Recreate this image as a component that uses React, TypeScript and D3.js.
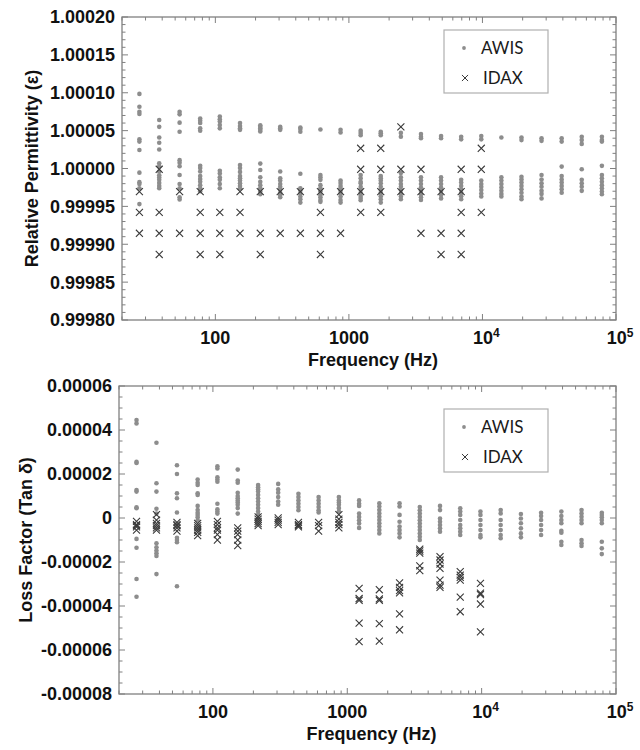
import React from "react";
import * as d3 from "d3";

// Measurement frequencies (Hz)
const freqs = [27, 38, 54, 77, 108, 153, 217, 306, 433, 612, 866, 1225, 1732, 2450, 3465, 4900, 6930, 9800, 13860, 19600, 27700, 39200, 55400, 78400];

// ---- Relative permittivity (top panel) ----
const awisPerm: number[][] = [
  [1.0000985, 1.0000815, 1.000075, 1.000072, 1.0000385, 1.0000355, 1.0000245, 0.9999945, 0.999982, 0.9999795, 0.999974, 0.999953],
  [1.000064, 1.000055, 1.000041, 1.000034, 1.000025, 1.000007, 1.000003, 0.999996, 0.999991, 0.999988, 0.999985, 0.999981, 0.999977, 0.999974],
  [1.000075, 1.0000715, 1.0000605, 1.0000485, 1.000011, 1.0000075, 1.000003, 0.9999915, 0.9999795, 0.999974, 0.999962, 0.999959],
  [1.000066, 1.000063, 1.00006, 1.000053, 1.00005, 1.0000035, 1.0000005, 0.999996, 0.99999, 0.999986, 0.9999825, 0.999978, 0.999974, 0.99997],
  [1.0000685, 1.000065, 1.000062, 1.0000575, 1.000053, 0.999997, 0.9999935, 0.9999885, 0.999985, 0.9999795, 0.999974],
  [1.00006, 1.000056, 1.000053, 1.000051, 1.0000045, 1.0000005, 0.9999955, 0.99999, 0.999987, 0.999984, 0.9999805, 0.999977, 0.999974],
  [1.000057, 1.000055, 1.000053, 1.000051, 1.000049, 1.0000065, 0.999998, 0.9999885, 0.9999825, 0.999978, 0.999974, 0.9999695, 0.999966],
  [1.000055, 1.000053, 1.000051, 0.999996, 0.999987, 0.999984, 0.9999795, 0.999976, 0.9999725, 0.999968, 0.999965, 0.999962],
  [1.000054, 1.000052, 1.0000485, 0.999993, 0.999974, 0.999971, 0.999967, 0.999963, 0.9999595, 0.999955],
  [1.0000515, 0.9999915, 0.9999885, 0.999985, 0.999978, 0.999974, 0.99997, 0.999965, 0.999962, 0.9999585, 0.999956],
  [1.000051, 1.0000475, 0.999984, 0.999981, 0.999977, 0.999974, 0.9999705, 0.999967, 0.999963, 0.9999585, 0.999955],
  [1.00005, 1.000047, 1.000044, 0.9999915, 0.999987, 0.9999825, 0.9999805, 0.999976, 0.9999725, 0.999968, 0.999964, 0.999961, 0.999958],
  [1.0000485, 1.0000465, 1.000044, 0.99999, 0.999987, 0.999984, 0.9999805, 0.999976, 0.999972, 0.999968, 0.9999635, 0.9999595, 0.999955],
  [1.000047, 1.000042, 0.999994, 0.9999885, 0.999984, 0.9999795, 0.999976, 0.9999715, 0.999967, 0.999963, 0.9999595],
  [1.0000455, 1.000042, 1.00004, 0.9999885, 0.999984, 0.9999795, 0.999975, 0.9999705, 0.999966, 0.999962, 0.9999585],
  [1.000043, 1.00004, 0.9999885, 0.999984, 0.9999795, 0.999975, 0.9999705, 0.999965, 0.9999605],
  [1.000042, 1.0000385, 0.999985, 0.9999815, 0.999977, 0.9999725, 0.999968, 0.9999635, 0.9999595],
  [1.000043, 1.0000385, 0.999984, 0.9999795, 0.999976, 0.9999715, 0.999967, 0.999963],
  [1.000041, 0.9999885, 0.999984, 0.9999795, 0.999975, 0.9999705, 0.9999665, 0.999963],
  [1.000041, 1.0000375, 0.999989, 0.9999855, 0.9999815, 0.999977, 0.9999725, 0.999968, 0.999963, 0.9999595],
  [1.00004, 1.0000365, 0.9999915, 0.9999855, 0.9999805, 0.999976, 0.9999705, 0.9999665, 0.9999605],
  [1.00004, 1.0000355, 1.0000025, 0.99999, 0.9999855, 0.9999815, 0.999977, 0.9999725, 0.999968],
  [1.000042, 1.0000375, 1.0000325, 0.999999, 0.999985, 0.9999805, 0.999976, 0.9999705],
  [1.000042, 1.0000375, 1.0000355, 1.0000035, 0.9999915, 0.999987, 0.9999825, 0.999978, 0.999974, 0.9999695, 0.999966],
];

const idaxPerm: number[][] = [
  [0.9999695, 0.999942, 0.9999145],
  [0.999999, 0.999942, 0.9999145, 0.9998865],
  [0.9999695, 0.9999145],
  [0.9999695, 0.999942, 0.9999145, 0.9998865],
  [0.999942, 0.9999145, 0.9998865],
  [0.9999695, 0.999942, 0.9999145],
  [0.9999695, 0.9999145, 0.9998865],
  [0.9999695, 0.9999145],
  [0.9999695, 0.9999145],
  [0.9999695, 0.999942, 0.9999145, 0.9998865],
  [0.9999695, 0.9999145],
  [1.0000267, 0.999999, 0.9999695, 0.999942],
  [1.0000267, 0.999999, 0.9999695, 0.999942],
  [1.000055, 0.999999, 0.9999695],
  [0.999999, 0.9999695, 0.9999145],
  [0.9999695, 0.9999145, 0.9998865],
  [0.999999, 0.9999695, 0.999942, 0.9999145, 0.9998865],
  [1.0000267, 0.999999, 0.999942],
];

// ---- Loss factor (bottom panel) ----
const awisLoss: number[][] = [
  [44.5e-6, 43e-6, 25.5e-6, 25e-6, 12.7e-6, 12e-6, 4.9e-6, 4.4e-6, -9.5e-6, -13.5e-6, -27.7e-6, -35.8e-6],
  [34.2e-6, 15.8e-6, 12e-6, 4.2e-6, 2e-6, -11.5e-6, -13.3e-6, -14.8e-6, -16e-6, -17.3e-6, -25.5e-6],
  [24e-6, 20e-6, 11.2e-6, 9e-6, 2.5e-6, -9e-6, -10e-6, -11e-6, -31e-6],
  [17.5e-6, 16e-6, 15e-6, 11.2e-6, 10.5e-6, 5.5e-6, 3.6e-6, 2.4e-6, 1.4e-6, 0.3e-6, -1e-6],
  [23.5e-6, 22.5e-6, 18.5e-6, 17.5e-6, 16.5e-6, 6.5e-6, 4e-6, 3e-6, 2e-6],
  [22e-6, 17e-6, 16e-6, 11.5e-6, 10e-6, 9e-6, 8e-6, 7e-6, 6e-6, 4.5e-6, 2e-6],
  [15e-6, 14e-6, 13e-6, 12e-6, 10.5e-6, 9e-6, 7.5e-6, 6e-6, 4.5e-6, 3e-6, 1.5e-6],
  [15.5e-6, 13e-6, 11.5e-6, 9.5e-6, 7.5e-6, 6e-6],
  [11e-6, 9.5e-6, 8e-6, 6.5e-6, 5e-6, 3.5e-6],
  [9.5e-6, 8e-6, 6.5e-6, 5e-6, 3.5e-6, 2.5e-6],
  [9.5e-6, 8e-6, 7e-6, 6e-6, 4.5e-6, 3e-6],
  [8e-6, 6.5e-6, 5.5e-6, 2e-6, 0.5e-6, -1e-6, -2.5e-6, -4.5e-6],
  [6.7e-6, 5.2e-6, 3.6e-6, 2.1e-6, 0.6e-6, -0.9e-6, -2.4e-6, -3.9e-6, -5.5e-6, -7e-6],
  [6.7e-6, 5.2e-6, 1.4e-6, -1.7e-6, -3.9e-6, -5.5e-6, -7e-6, -8.8e-6],
  [5e-6, 3.5e-6, 2e-6, 0.5e-6, -1e-6, -2.5e-6, -4e-6, -5.5e-6, -7e-6, -8.5e-6, -10e-6],
  [5.5e-6, 3.6e-6, -0.2e-6, -1.7e-6, -3.2e-6, -4.7e-6, -6.2e-6],
  [4.4e-6, 2.9e-6, 1.4e-6, -0.9e-6, -3.2e-6, -4.7e-6, -6.2e-6, -7.7e-6],
  [2.9e-6, 1.4e-6, -0.9e-6, -3.2e-6, -5.5e-6, -7.7e-6, -8.8e-6],
  [3.6e-6, 2.1e-6, -0.9e-6, -3.2e-6, -5.5e-6, -7.7e-6, -9.2e-6],
  [1.8e-6, -0.2e-6, -2.4e-6, -4.7e-6, -7e-6, -8.8e-6],
  [2.4e-6, 0.9e-6, -0.9e-6, -3.2e-6, -5.5e-6, -7.7e-6],
  [2.9e-6, 0.9e-6, -0.9e-6, -2.4e-6, -5.8e-6, -6.7e-6, -10.8e-6, -12.3e-6],
  [3.6e-6, 2.1e-6, 0.6e-6, -0.9e-6, -2.4e-6, -10e-6, -11.5e-6, -12.7e-6],
  [2.4e-6, 1.4e-6, 0.3e-6, -0.9e-6, -2.4e-6, -10.8e-6, -13.8e-6, -16.4e-6],
];

const idaxLoss: number[][] = [
  [-1.5e-6, -3e-6, -3.5e-6, -4e-6, -5.5e-6],
  [1.5e-6, -1e-6, -2.5e-6, -3.5e-6, -4.5e-6, -5.5e-6],
  [-2e-6, -3e-6, -3.5e-6, -4.5e-6, -6e-6],
  [-2.5e-6, -3.5e-6, -4.5e-6, -5.5e-6, -6.5e-6, -8e-6],
  [-1.5e-6, -3e-6, -4.5e-6, -5.5e-6, -7.5e-6, -10e-6],
  [-4.5e-6, -6e-6, -7.5e-6, -10e-6, -12.5e-6],
  [0.5e-6, -0.5e-6, -1.5e-6, -2.5e-6, -3.5e-6],
  [0, -1e-6, -2e-6, -3e-6],
  [-2e-6, -3e-6, -3.5e-6, -4e-6],
  [-2e-6, -3.5e-6, -6e-6],
  [1.5e-6, -0.5e-6, -2e-6, -3e-6, -4.5e-6],
  [-32e-6, -36.6e-6, -37.4e-6, -47.8e-6, -56.2e-6],
  [-32.6e-6, -36.8e-6, -37.4e-6, -48e-6, -56e-6],
  [-29.5e-6, -31.5e-6, -33e-6, -34e-6, -43.6e-6, -50.8e-6],
  [-14.2e-6, -15e-6, -16e-6, -21.8e-6, -23.9e-6],
  [-17.6e-6, -19.1e-6, -20.9e-6, -22.9e-6, -28.2e-6, -30.5e-6, -31.5e-6],
  [-24.4e-6, -26e-6, -27e-6, -28.2e-6, -36e-6, -42.6e-6],
  [-29.7e-6, -34.2e-6, -34.8e-6, -39.1e-6, -51.8e-6],
];

const xDomain = [20, 100000];
const xTickLabels = [
  { v: 100, base: "100", sup: "" },
  { v: 1000, base: "1000", sup: "" },
  { v: 10000, base: "10", sup: "4" },
  { v: 100000, base: "10", sup: "5" },
];
const permDomain = [0.9998, 1.0002];
const lossDomain = [-0.00008, 0.00006];
const seriesNames = ["AWIS", "IDAX"];

const AXIS_FONT = "'Liberation Sans', Arial, sans-serif";
const LEG_FONT = "Lato, 'Open Sans', sans-serif";
const FRAME = "#808080";
const DOT = "#8d8d8d";
const CROSS = "#3a3a3a";

type Box = { left: number; right: number; top: number; bottom: number };

function Panel(props: {
  box: Box;
  yDomain: number[];
  majorCount: number;
  minorCount: number;
  fmt: (v: number) => string;
  yTitle: string;
  yTitleX: number;
  awis: number[][];
  idax: number[][];
  legend: { x: number; y: number };
}) {
  const { box, yDomain, majorCount, minorCount, fmt, yTitle, yTitleX, awis, idax, legend } = props;
  const x = d3.scaleLog().domain(xDomain).range([box.left, box.right]);
  const y = d3.scaleLinear().domain(yDomain).range([box.bottom, box.top]);
  const xTicks = x.ticks();
  const isMajorX = (v: number) => Math.abs(Math.log10(v) - Math.round(Math.log10(v))) < 1e-9;
  const yMajor = y.ticks(majorCount);
  const yMinor = y.ticks(minorCount);
  const crossPath = d3.symbol(d3.symbolX, 34)() as string;
  const legCross = d3.symbol(d3.symbolX, 26)() as string;

  const tickLines: React.ReactNode[] = [];
  xTicks.forEach((t, i) => {
    const len = isMajorX(t) ? 6 : 3.5;
    const px = x(t);
    tickLines.push(<line key={"xb" + i} x1={px} x2={px} y1={box.bottom} y2={box.bottom - len} />);
    tickLines.push(<line key={"xt" + i} x1={px} x2={px} y1={box.top} y2={box.top + len} />);
  });
  yMinor.forEach((t, i) => {
    const major = yMajor.some((m) => Math.abs(m - t) < 1e-12);
    const len = major ? 6 : 3.5;
    const py = y(t);
    tickLines.push(<line key={"yl" + i} x1={box.left} x2={box.left + len} y1={py} y2={py} />);
    tickLines.push(<line key={"yr" + i} x1={box.right} x2={box.right - len} y1={py} y2={py} />);
  });

  const cy = (box.top + box.bottom) / 2;

  return (
    <g>
      <rect x={box.left} y={box.top} width={box.right - box.left} height={box.bottom - box.top} fill="none" stroke={FRAME} strokeWidth={1.3} />
      <g stroke={FRAME} strokeWidth={1}>{tickLines}</g>

      {/* y tick labels */}
      <g fontFamily={AXIS_FONT} fontWeight="bold" fontSize={18} fill="#111" textAnchor="end">
        {yMajor.map((t, i) => (
          <text key={i} x={box.left - 7} y={y(t)} dy="0.36em">{fmt(t)}</text>
        ))}
      </g>
      {/* x tick labels */}
      <g fontFamily={AXIS_FONT} fontWeight="bold" fontSize={18} fill="#111" textAnchor="middle">
        {xTickLabels.map((t, i) => (
          <text key={i} x={x(t.v) + (t.sup ? 4 : 0)} y={box.bottom + 24}>
            {t.base}
            {t.sup ? <tspan fontSize={12} dy={-7}>{t.sup}</tspan> : null}
          </text>
        ))}
      </g>
      <text x={(box.left + box.right) / 2 + 4} y={box.bottom + 46} textAnchor="middle" fontFamily={AXIS_FONT} fontWeight="bold" fontSize={18} fill="#111">
        Frequency (Hz)
      </text>
      <text transform={`translate(${yTitleX},${cy}) rotate(-90)`} textAnchor="middle" fontFamily={AXIS_FONT} fontWeight="bold" fontSize={18} fill="#111">
        {yTitle}
      </text>

      {/* AWIS points */}
      <g fill={DOT}>
        {freqs.flatMap((f, i) =>
          (awis[i] || []).map((v, j) => <circle key={i + "-" + j} cx={x(f)} cy={y(v)} r={2.3} />)
        )}
      </g>
      {/* IDAX points */}
      <g stroke={CROSS} strokeWidth={1.1} fill="none">
        {freqs.flatMap((f, i) =>
          (idax[i] || []).map((v, j) => (
            <path key={i + "-" + j} d={crossPath} transform={`translate(${x(f)},${y(v)})`} />
          ))
        )}
      </g>

      {/* legend */}
      <g>
        <rect x={legend.x} y={legend.y} width={104} height={63} fill="#fff" stroke="#b0b0b0" strokeWidth={1.2} />
        <circle cx={legend.x + 20} cy={legend.y + 18} r={1.9} fill={DOT} />
        <path d={legCross} transform={`translate(${legend.x + 21},${legend.y + 48})`} stroke={CROSS} strokeWidth={1} fill="none" />
        <g fontFamily={LEG_FONT} fontSize={17} fill="#1a1a1a">
          <text x={legend.x + 37} y={legend.y + 18} dy="0.36em">{seriesNames[0]}</text>
          <text x={legend.x + 39} y={legend.y + 48} dy="0.36em">{seriesNames[1]}</text>
        </g>
      </g>
    </g>
  );
}

export default function App() {
  const lossFmt = (v: number) => (Math.abs(v) < 1e-12 ? "0" : v.toFixed(5));
  const permFmt = (v: number) => v.toFixed(5);
  return (
    <svg width={640} height={750} style={{ position: "absolute", left: 0, top: 0, background: "#fff" }}>
      <rect x={0} y={0} width={640} height={750} fill="#fff" />
      <Panel
        box={{ left: 122, right: 616, top: 17, bottom: 320 }}
        yDomain={permDomain}
        majorCount={8}
        minorCount={40}
        fmt={permFmt}
        yTitle="Relative Permittivity (ε)"
        yTitleX={38}
        awis={awisPerm}
        idax={idaxPerm}
        legend={{ x: 444, y: 30 }}
      />
      <Panel
        box={{ left: 119, right: 616, top: 386, bottom: 694 }}
        yDomain={lossDomain}
        majorCount={7}
        minorCount={28}
        fmt={lossFmt}
        yTitle="Loss Factor (Tan δ)"
        yTitleX={32}
        awis={awisLoss}
        idax={idaxLoss}
        legend={{ x: 444, y: 409 }}
      />
    </svg>
  );
}
